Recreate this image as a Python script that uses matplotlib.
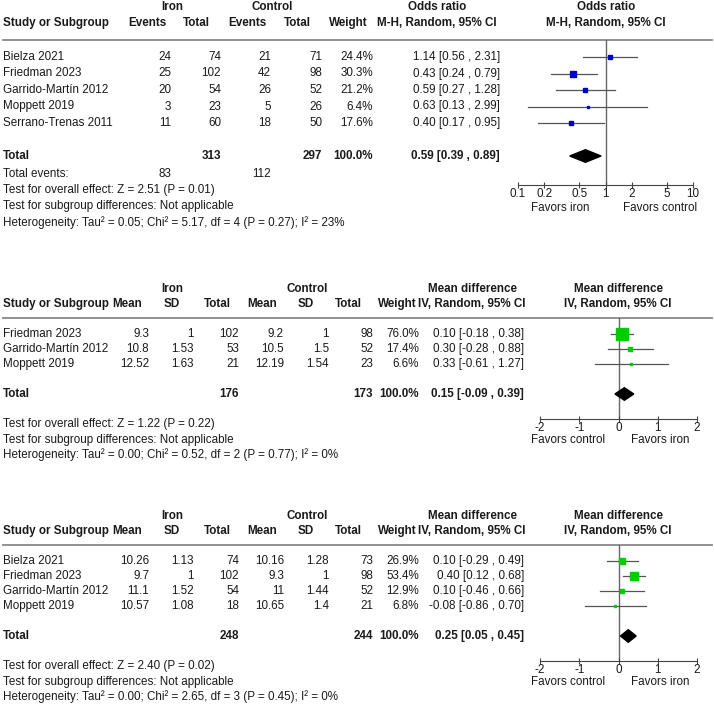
import matplotlib
matplotlib.use("Agg")
import matplotlib.pyplot as plt

plt.rcParams["font.family"] = ["Liberation Sans", "DejaVu Sans"]
plt.rcParams["font.size"] = 8.4

# -----------------------------
# Data - panel 1 (odds ratio)
# -----------------------------
studies1 = ["Bielza 2021", "Friedman 2023", "Garrido-Martín 2012", "Moppett 2019", "Serrano-Trenas 2011"]
iron_events1 = [24, 25, 20, 3, 11]
iron_total1 = [74, 102, 54, 23, 60]
ctrl_events1 = [21, 42, 26, 5, 18]
ctrl_total1 = [71, 98, 52, 26, 50]
weight1 = [24.4, 30.3, 21.2, 6.4, 17.6]
est1 = [1.14, 0.43, 0.59, 0.63, 0.40]
lo1 = [0.56, 0.24, 0.27, 0.13, 0.17]
hi1 = [2.31, 0.79, 1.28, 2.99, 0.95]
pooled1 = (0.59, 0.39, 0.89)
sum_n1 = (313, 297)
sum_events1 = (83, 112)
foot1 = ["Test for overall effect: Z = 2.51 (P = 0.01)",
         "Test for subgroup differences: Not applicable",
         "Heterogeneity: Tau² = 0.05; Chi² = 5.17, df = 4 (P = 0.27); I² = 23%"]

# -----------------------------
# Data - panel 2 (mean difference)
# -----------------------------
studies2 = ["Friedman 2023", "Garrido-Martín 2012", "Moppett 2019"]
iron_mean2 = [9.3, 10.8, 12.52]
iron_sd2 = [1, 1.53, 1.63]
iron_n2 = [102, 53, 21]
ctrl_mean2 = [9.2, 10.5, 12.19]
ctrl_sd2 = [1, 1.5, 1.54]
ctrl_n2 = [98, 52, 23]
weight2 = [76.0, 17.4, 6.6]
est2 = [0.10, 0.30, 0.33]
lo2 = [-0.18, -0.28, -0.61]
hi2 = [0.38, 0.88, 1.27]
pooled2 = (0.15, -0.09, 0.39)
sum_n2 = (176, 173)
foot2 = ["Test for overall effect: Z = 1.22 (P = 0.22)",
         "Test for subgroup differences: Not applicable",
         "Heterogeneity: Tau² = 0.00; Chi² = 0.52, df = 2 (P = 0.77); I² = 0%"]

# -----------------------------
# Data - panel 3 (mean difference)
# -----------------------------
studies3 = ["Bielza 2021", "Friedman 2023", "Garrido-Martín 2012", "Moppett 2019"]
iron_mean3 = [10.26, 9.7, 11.1, 10.57]
iron_sd3 = [1.13, 1, 1.52, 1.08]
iron_n3 = [74, 102, 54, 18]
ctrl_mean3 = [10.16, 9.3, 11, 10.65]
ctrl_sd3 = [1.28, 1, 1.44, 1.4]
ctrl_n3 = [73, 98, 52, 21]
weight3 = [26.9, 53.4, 12.9, 6.8]
est3 = [0.10, 0.40, 0.10, -0.08]
lo3 = [-0.29, 0.12, -0.46, -0.86]
hi3 = [0.49, 0.68, 0.66, 0.70]
pooled3 = (0.25, 0.05, 0.45)
sum_n3 = (248, 244)
foot3 = ["Test for overall effect: Z = 2.40 (P = 0.02)",
         "Test for subgroup differences: Not applicable",
         "Heterogeneity: Tau² = 0.00; Chi² = 2.65, df = 3 (P = 0.45); I² = 0%"]

or_ticks = [0.1, 0.2, 0.5, 1, 2, 5, 10]
md_ticks = [-2, -1, 0, 1, 2]

# -----------------------------
# Styles
# -----------------------------
W, H = 714, 704
TXT = "#1a1a1a"
BLUE = "#0000cc"
GREEN = "#00cc00"
CI_COL = "#555555"

fig = plt.figure(figsize=(W / 100, H / 100), dpi=100)
bg = fig.add_axes([0, 0, 1, 1])
bg.set_xlim(0, W)
bg.set_ylim(H, 0)
bg.axis("off")


def txt(x, y, s, ha="left", bold=False):
    bg.text(x, y, s, ha=ha, va="center", color=TXT,
            fontweight="bold" if bold else "normal")


def fmt_ci(e, l, h):
    return f"{e:.2f} [{l:.2f} , {h:.2f}]"


def forest(x0, x1, y_top, y_axis, first, step, xlim, ticks, log, est, lo, hi,
           wts, color, pooled, total_row, ref):
    ax = fig.add_axes([x0 / W, 1 - y_axis / H, (x1 - x0) / W, (y_axis - y_top) / H])
    ax.set_facecolor("none")
    if log:
        ax.set_xscale("log")
    ax.set_xlim(*xlim)
    ax.set_ylim((y_axis - first) / step, (y_top - first) / step)
    ax.axvline(ref, color="#666666", lw=1, zorder=1)
    for i, (e, l, h, w) in enumerate(zip(est, lo, hi, wts)):
        ax.plot([l, h], [i, i], color=CI_COL, lw=0.9, zorder=2, clip_on=False)
        side = 2 + 0.12 * w
        ax.plot(e, i, marker="s", ms=side * 0.72, color=color, mec=color, zorder=3)
    e, l, h = pooled
    hh = 0.42 * 15 / step
    ax.fill([l, e, h, e], [total_row, total_row - hh, total_row, total_row + hh],
            color="black", zorder=3)
    for s in ["top", "left", "right"]:
        ax.spines[s].set_visible(False)
    ax.spines["bottom"].set_color("#444444")
    ax.set_yticks([])
    ax.minorticks_off()
    ax.set_xticks(ticks)
    ax.set_xticklabels([f"{t:g}" for t in ticks])
    ax.tick_params(axis="x", direction="inout", length=4.5, width=0.8, pad=0,
                   colors="#444444", labelcolor=TXT, labelsize=8.4)
    return ax


# -----------------------------
# Panel 1
# -----------------------------
txt(172, 7, "Iron", "center", True)
txt(272, 7, "Control", "center", True)
txt(437, 7, "Odds ratio", "center", True)
txt(606, 7, "Odds ratio", "center", True)
y = 23
txt(3, y, "Study or Subgroup", bold=True)
txt(147, y, "Events", "center", True)
txt(196, y, "Total", "center", True)
txt(247, y, "Events", "center", True)
txt(297, y, "Total", "center", True)
txt(348, y, "Weight", "center", True)
txt(437, y, "M-H, Random, 95% CI", "center", True)
txt(606, y, "M-H, Random, 95% CI", "center", True)
bg.plot([3, 712], [40, 40], color="#888888", lw=1.3)

first, step = 57, 16.5
for i, name in enumerate(studies1):
    yy = first + i * step
    txt(3, yy, name)
    txt(171, yy, str(iron_events1[i]), "right")
    txt(221, yy, str(iron_total1[i]), "right")
    txt(271, yy, str(ctrl_events1[i]), "right")
    txt(322, yy, str(ctrl_total1[i]), "right")
    txt(373, yy, f"{weight1[i]:.1f}%", "right")
    txt(500, yy, fmt_ci(est1[i], lo1[i], hi1[i]), "right")
yy = first + 6 * step
txt(3, yy, "Total", bold=True)
txt(221, yy, str(sum_n1[0]), "right", True)
txt(322, yy, str(sum_n1[1]), "right", True)
txt(373, yy, "100.0%", "right", True)
txt(500, yy, fmt_ci(*pooled1), "right", True)
txt(3, 174, "Total events:")
txt(171, 174, str(sum_events1[0]), "right")
txt(271, 174, str(sum_events1[1]), "right")
for k, s in enumerate(foot1):
    txt(3, 190 + k * 16.5, s)
forest(518, 693, 40, 185, first, step, (0.1, 10), or_ticks, True,
       est1, lo1, hi1, weight1, BLUE, pooled1, 6, 1)
txt(560, 208, "Favors iron", "center")
txt(660, 208, "Favors control", "center")


# -----------------------------
# Panels 2 and 3
# -----------------------------
def md_panel(top, studies, im, isd, inn, cm, csd, cn, wts, est, lo, hi,
             pooled, sums, foot):
    txt(172, top, "Iron", "center", True)
    txt(307, top, "Control", "center", True)
    txt(472, top, "Mean difference", "center", True)
    txt(618, top, "Mean difference", "center", True)
    y = top + 15
    txt(3, y, "Study or Subgroup", bold=True)
    txt(127, y, "Mean", "center", True)
    txt(172, y, "SD", "center", True)
    txt(217, y, "Total", "center", True)
    txt(262, y, "Mean", "center", True)
    txt(306, y, "SD", "center", True)
    txt(348, y, "Total", "center", True)
    txt(397, y, "Weight", "center", True)
    txt(472, y, "IV, Random, 95% CI", "center", True)
    txt(618, y, "IV, Random, 95% CI", "center", True)
    line_y = top + 29
    bg.plot([3, 712], [line_y, line_y], color="#888888", lw=1.3)
    first, step = top + 45, 15
    for i, name in enumerate(studies):
        yy = first + i * step
        txt(3, yy, name)
        txt(149, yy, f"{im[i]:g}", "right")
        txt(194, yy, f"{isd[i]:g}", "right")
        txt(239, yy, str(inn[i]), "right")
        txt(284, yy, f"{cm[i]:g}", "right")
        txt(329, yy, f"{csd[i]:g}", "right")
        txt(373, yy, str(cn[i]), "right")
        txt(419, yy, f"{wts[i]:.1f}%", "right")
        txt(524, yy, fmt_ci(est[i], lo[i], hi[i]), "right")
    total_row = len(studies) + 1
    yy = first + total_row * step
    txt(3, yy, "Total", bold=True)
    txt(239, yy, str(sums[0]), "right", True)
    txt(373, yy, str(sums[1]), "right", True)
    txt(419, yy, "100.0%", "right", True)
    txt(524, yy, fmt_ci(*pooled), "right", True)
    foot_y = yy + 30
    for k, s in enumerate(foot):
        txt(3, foot_y + k * 15.5, s)
    axis_y = yy + 25
    forest(540, 697, line_y, axis_y, first, step, (-2, 2), md_ticks, False,
           est, lo, hi, wts, GREEN, pooled, total_row, 0)
    txt(568, axis_y + 21, "Favors control", "center")
    txt(660, axis_y + 21, "Favors iron", "center")


md_panel(289, studies2, iron_mean2, iron_sd2, iron_n2, ctrl_mean2, ctrl_sd2, ctrl_n2,
         weight2, est2, lo2, hi2, pooled2, sum_n2, foot2)
md_panel(516, studies3, iron_mean3, iron_sd3, iron_n3, ctrl_mean3, ctrl_sd3, ctrl_n3,
         weight3, est3, lo3, hi3, pooled3, sum_n3, foot3)

fig.savefig("out.png", dpi=100, facecolor="white")
